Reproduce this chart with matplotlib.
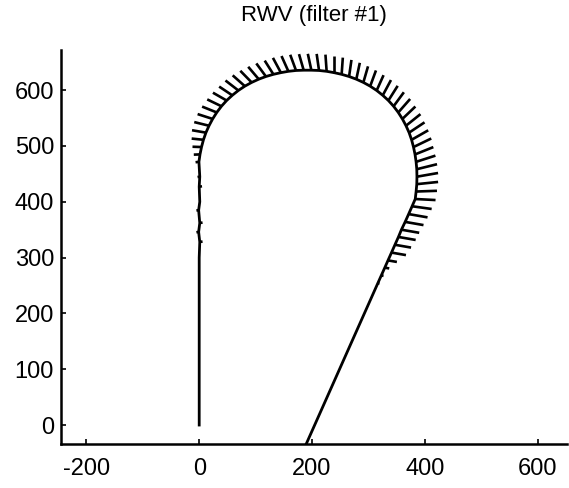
import numpy as np
import matplotlib
matplotlib.use("Agg")
import matplotlib.pyplot as plt

plt.rcParams['font.family'] = ['Liberation Sans', 'DejaVu Sans']

title = "RWV (filter #1)"
x_ticks = [-200, 0, 200, 400, 600]
y_ticks = [0, 100, 200, 300, 400, 500, 600]

# trajectory
path_x = [0, 0, 0, 0, 1, -1, 1, -1, 1, 0, 1, -0.5,
          1.4, 4.1, 7.5, 11.9, 17.4, 23.8, 31.1, 39.4, 48.6, 58.6, 69.4, 80.9,
          93.0, 105.5, 118.3, 131.5, 144.8, 158.1, 171.6, 185.2, 198.8, 212.4,
          225.9, 239.2, 252.5, 265.7, 278.5, 291.0, 303.1, 314.6, 325.4, 335.4,
          344.6, 352.9, 360.2, 366.6, 372.1, 376.5, 379.9, 382.6, 384.5, 385.7,
          386.0, 385.7, 384.5, 383.0, 377.4, 371.3, 365.1, 358.5, 353.2, 347.0,
          340.9, 334.7, 329.0, 322.8, 316.6, 303.4, 269.0, 216.6, 189.7]
path_y = [0, 100, 200, 300, 328, 346, 362, 385, 400, 427, 445, 471.6,
          484.9, 498.1, 511.1, 523.9, 536.3, 548.5, 560.1, 571.2, 581.5, 590.8, 599.5, 607.2,
          613.9, 619.7, 624.5, 628.4, 631.4, 633.8, 635.3, 635.8, 635.8, 635.3,
          633.8, 631.4, 628.4, 624.5, 619.7, 613.9, 607.2, 599.5, 590.8, 581.5,
          571.2, 560.1, 548.5, 536.3, 523.9, 511.1, 498.1, 484.9, 471.6, 458.4,
          445.0, 431.6, 418.4, 405.0, 392.0, 378.0, 364.0, 350.0, 337.0, 323.0,
          309.0, 295.0, 282.0, 268.0, 254.0, 224.0, 146.0, 27.0, -34.0]

# RWV hairs: base point, length and direction (degrees)
hair_x = [1, -1, 1, -1, 0, 1, -0.5,
          1.4, 4.1, 7.5, 11.9, 17.4, 23.8, 31.1, 39.4, 48.6, 58.6, 69.4, 80.9,
          93.0, 105.5, 118.3, 131.5, 144.8, 158.1, 171.6, 185.2, 198.8, 212.4,
          225.9, 239.2, 252.5, 265.7, 278.5, 291.0, 303.1, 314.6, 325.4, 335.4,
          344.6, 352.9, 360.2, 366.6, 372.1, 376.5, 379.9, 382.6, 384.5, 385.7,
          386.0, 385.7, 384.5, 383.0, 377.4, 371.3, 365.1, 358.5, 353.2, 347.0,
          340.9, 334.7, 329.0, 322.8, 316.6]
hair_y = [328, 346, 362, 385, 427, 445, 471.6,
          484.9, 498.1, 511.1, 523.9, 536.3, 548.5, 560.1, 571.2, 581.5, 590.8, 599.5, 607.2,
          613.9, 619.7, 624.5, 628.4, 631.4, 633.8, 635.3, 635.8, 635.8, 635.3,
          633.8, 631.4, 628.4, 624.5, 619.7, 613.9, 607.2, 599.5, 590.8, 581.5,
          571.2, 560.1, 548.5, 536.3, 523.9, 511.1, 498.1, 484.9, 471.6, 458.4,
          445.0, 431.6, 418.4, 405.0, 392.0, 378.0, 364.0, 350.0, 337.0, 323.0,
          309.0, 295.0, 282.0, 268.0, 254.0]
hair_len = [5, 4, 5, 4, 5, 4, 6,
            11, 16, 21, 25, 27, 28, 28, 28, 28, 28, 29, 29,
            29, 29, 29, 29, 30, 30, 30, 30, 30, 30,
            30, 30, 30, 30, 30, 30, 30, 30, 31, 31,
            31, 32, 32, 33, 33, 34, 35, 35, 36, 37,
            38, 38, 37, 36, 35, 34, 33, 32, 31, 29,
            26, 16, 8, 4, 3]
hair_ang = [10, 190, 10, 190, 10, 190, 187,
            182, 178, 174, 170, 166, 162, 158, 154, 150, 146, 142, 138,
            134, 130, 126, 122, 118, 114, 110, 106, 102, 98,
            94, 90, 86, 82, 78, 74, 70, 66, 62, 58,
            54, 49, 44, 39, 34, 30, 26, 22, 18, 14,
            10, 6, 2, -3, -8, -10, -10, -10, -10, -10,
            -10, -10, -10, -10, -10]

W, H = 569, 488
fig = plt.figure(figsize=(W / 100, H / 100), dpi=100)
ax = fig.add_axes([61 / W, (H - 444) / H, (567 - 61) / W, (444 - 50) / H])

ax.plot(path_x, path_y, color='black', lw=2.0, solid_joinstyle='round')

hx = np.array(hair_x)
hy = np.array(hair_y)
hl = np.array(hair_len)
ha = np.deg2rad(np.array(hair_ang))
segs_x = np.vstack([hx, hx + hl * np.cos(ha)])
segs_y = np.vstack([hy, hy + hl * np.sin(ha)])
ax.plot(segs_x, segs_y, color='black', lw=1.9, solid_capstyle='butt')

ax.set_xlim(-245, 652)
ax.set_ylim(-34, 672)
ax.set_xticks(x_ticks)
ax.set_yticks(y_ticks)
ax.set_xticklabels([str(t) for t in x_ticks])
ax.set_yticklabels([str(t) for t in y_ticks])
for s in ['top', 'right']:
    ax.spines[s].set_visible(False)
for s in ['left', 'bottom']:
    ax.spines[s].set_linewidth(1.8)
ax.tick_params(direction='in', length=3.5, width=1.2, labelsize=17, colors='black')
ax.tick_params(axis='x', pad=10)
ax.tick_params(axis='y', pad=5)

fig.text((61 + 567) / 2 / W, 1 - 16 / H, title, ha='center', va='center', fontsize=16)

fig.savefig('out.png', dpi=100)
